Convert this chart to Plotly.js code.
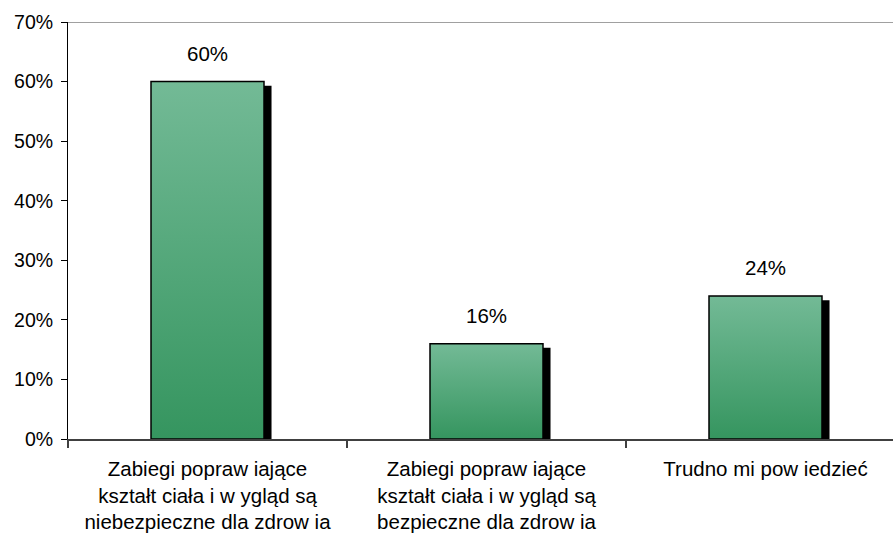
<!DOCTYPE html>
<html>
<head>
<meta charset="utf-8">
<script src="https://cdn.plot.ly/plotly-3.0.1.min.js"></script>
<style>
  html, body { margin: 0; padding: 0; background: #fff; }
  #chart { width: 893px; height: 542px; }
</style>
</head>
<body>
<div id="chart"></div>
<script>
var categories = [
  'Zabiegi popraw iające<br>kształt ciała i w ygląd są<br>niebezpieczne dla zdrow ia',
  'Zabiegi popraw iające<br>kształt ciała i w ygląd są<br>bezpieczne dla zdrow ia',
  'Trudno mi pow iedzieć'
];
var values = [60, 16, 24];
var positions = [0, 1, 2];

var barWidth = 0.405;
var font = 'Liberation Sans, Arial, sans-serif';

// black drop shadow behind each bar
var shadow = {
  type: 'bar',
  x: positions,
  y: values.map(function (v) { return v - 0.7; }),
  width: barWidth,
  offset: -barWidth / 2 + 0.027,
  marker: { color: '#000000', line: { width: 0 } },
  hoverinfo: 'skip',
  showlegend: false
};

// gradient-filled bars, one trace each so the gradient runs per bar
var bars = values.map(function (v, i) {
  var x0 = positions[i] - barWidth / 2, x1 = positions[i] + barWidth / 2;
  return {
    type: 'scatter',
    mode: 'lines',
    x: [x0, x0, x1, x1, x0],
    y: [0, v, v, 0, 0],
    fill: 'toself',
    fillgradient: {
      type: 'vertical',
      colorscale: [[0, '#35955f'], [1, '#73ba96']]
    },
    line: { color: '#000000', width: 1.5 },
    hoverinfo: 'skip',
    showlegend: false
  };
});

var labels = values.map(function (v, i) {
  return {
    x: positions[i], y: v, text: v + '%',
    showarrow: false, yanchor: 'bottom', yshift: 15,
    font: { family: font, size: 20.5, color: '#000' }
  };
});

var layout = {
  width: 893,
  height: 542,
  margin: { l: 68, r: 0, t: 22, b: 103 },
  paper_bgcolor: '#ffffff',
  plot_bgcolor: '#ffffff',
  showlegend: false,
  barmode: 'overlay',
  font: { family: font, color: '#000' },
  xaxis: {
    range: [-0.5, 2.457],
    tickmode: 'array',
    tickvals: positions,
    ticktext: categories,
    ticks: '',
    tickfont: { family: font, size: 20.5, color: '#000' },
    ticklabelstandoff: 11,
    showline: true,
    linecolor: '#404040',
    linewidth: 1.5,
    showgrid: false,
    zeroline: false,
    fixedrange: true,
    minor: {
      tickmode: 'linear', tick0: -0.5, dtick: 1,
      ticks: 'outside', ticklen: 7, tickcolor: '#404040', tickwidth: 1.5,
      showgrid: false
    }
  },
  yaxis: {
    range: [0, 70],
    tickmode: 'linear', tick0: 0, dtick: 10,
    ticksuffix: '%',
    ticks: 'outside', ticklen: 6, tickcolor: '#000', tickwidth: 1,
    tickfont: { family: font, size: 19.5, color: '#000' },
    ticklabelstandoff: 4,
    showline: true,
    linecolor: '#000',
    linewidth: 1,
    showgrid: false,
    zeroline: false,
    fixedrange: true
  },
  shapes: [{
    type: 'line', xref: 'paper', yref: 'y',
    x0: 0, x1: 1, y0: 70, y1: 70,
    line: { color: '#808080', width: 1.5 }
  }],
  annotations: labels
};

Plotly.newPlot('chart', [shadow].concat(bars), layout, { displayModeBar: false, staticPlot: true });
</script>
</body>
</html>
